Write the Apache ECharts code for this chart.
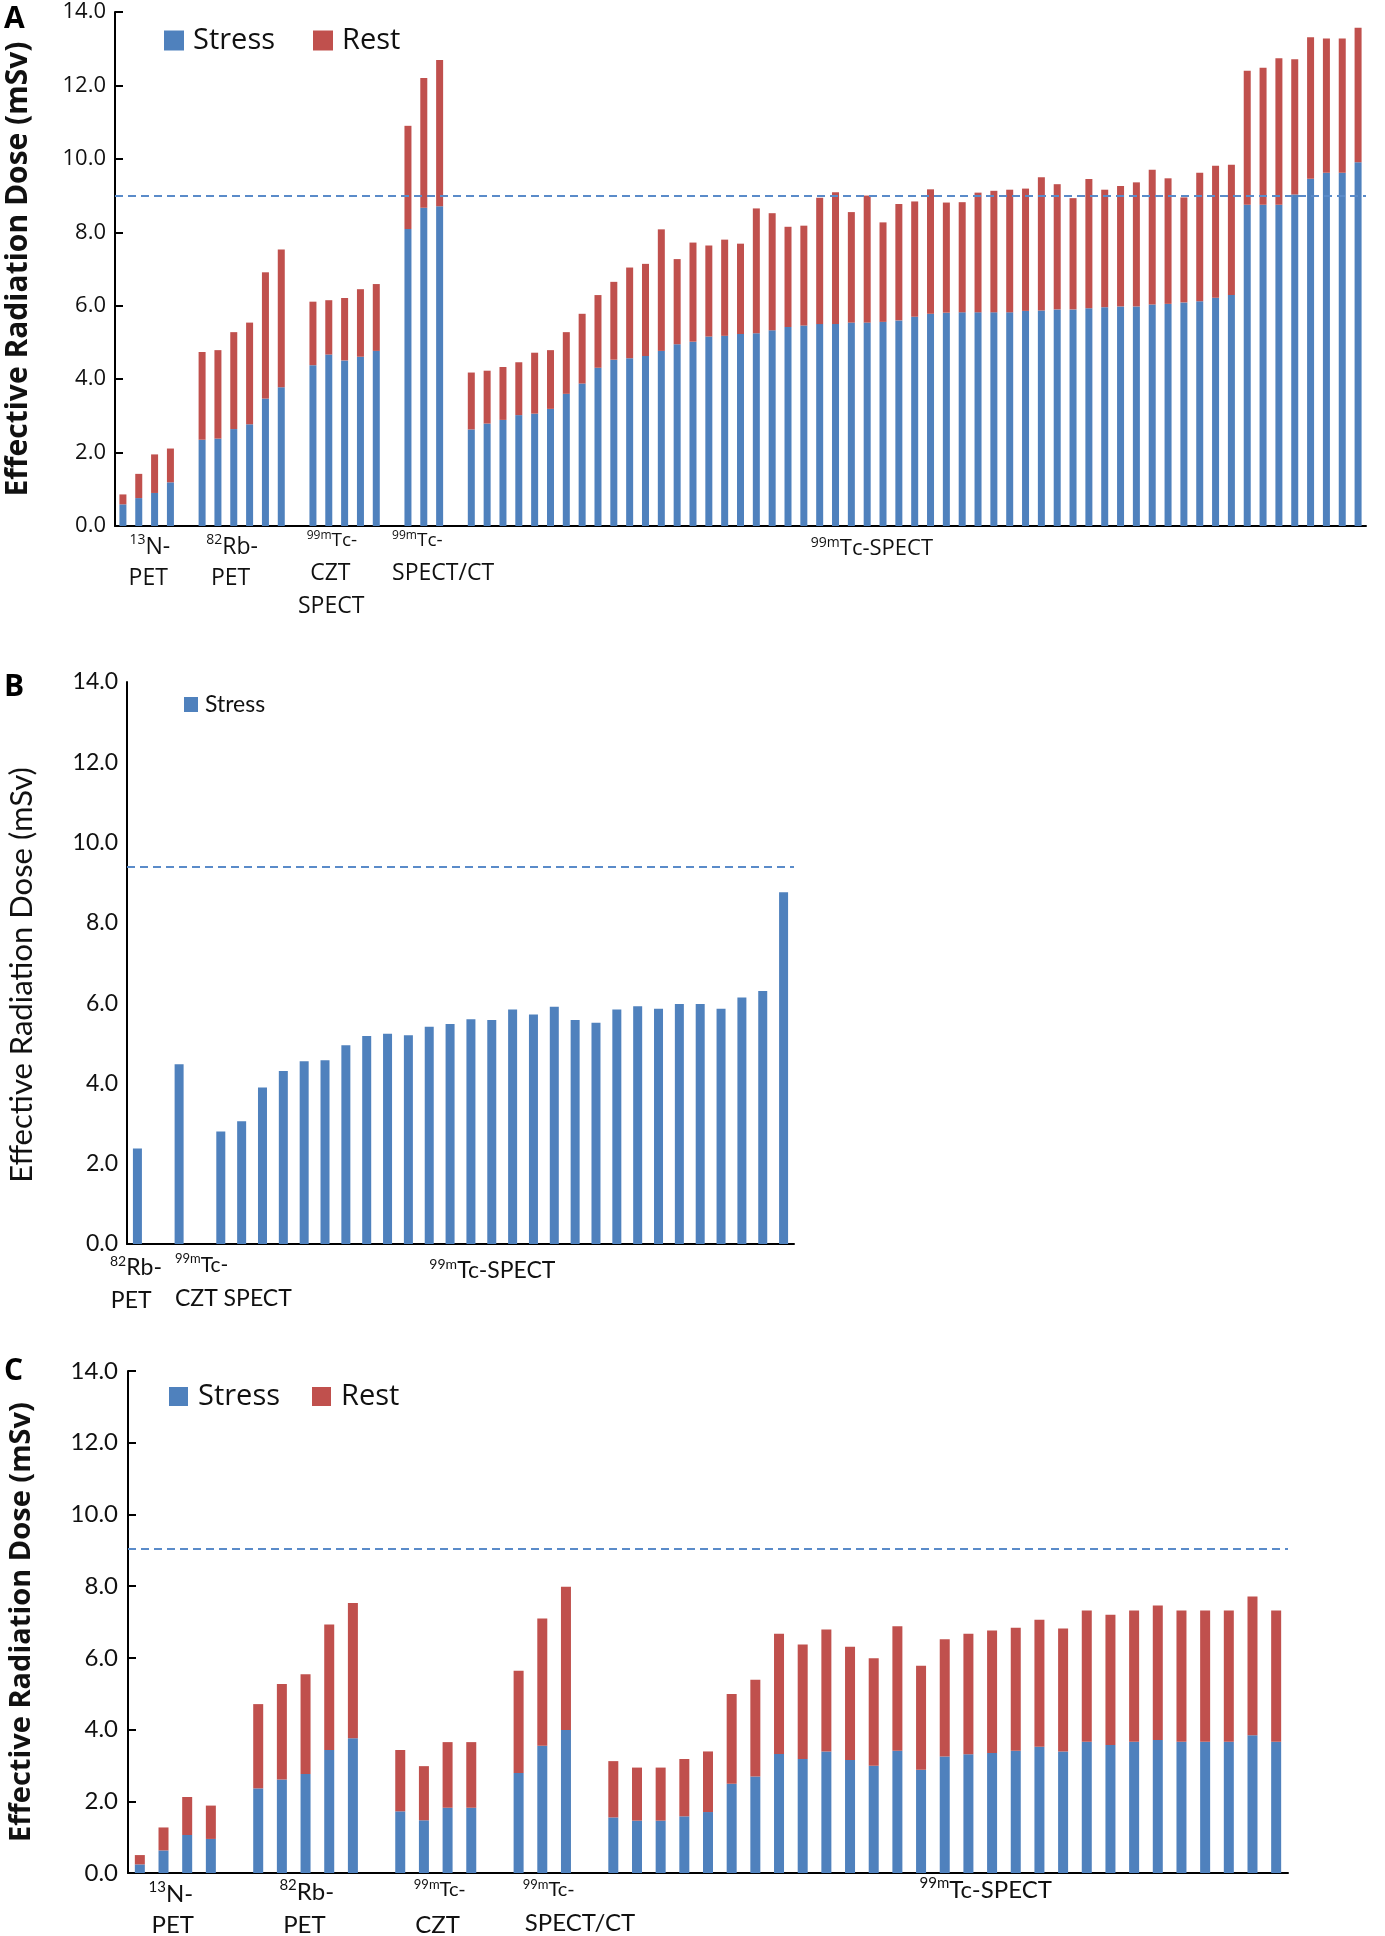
<!DOCTYPE html>
<html>
<head>
<meta charset="utf-8">
<script src="https://cdn.jsdelivr.net/npm/echarts@6/dist/echarts.min.js"></script>
<style>
html,body{margin:0;padding:0;background:#fff;}
#chart{width:1385px;height:1936px;}
</style>
</head>
<body>
<div id="chart"></div>
<script>
// ---------------- DATA ----------------
// Y axis tick labels (all panels)
const yTicks = [0, 2, 4, 6, 8, 10, 12, 14];

// Panel A (stress + rest)
const A_N13_stress    = [0.59, 0.76, 0.90, 1.19];
const A_N13_rest      = [0.27, 0.66, 1.05, 0.92];
const A_Rb82_stress   = [2.35, 2.38, 2.64, 2.77, 3.47, 3.78];
const A_Rb82_rest     = [2.39, 2.41, 2.64, 2.77, 3.44, 3.75];
const A_CZT_stress    = [4.38, 4.67, 4.51, 4.61, 4.77];
const A_CZT_rest      = [1.73, 1.48, 1.70, 1.84, 1.82];
const A_SPECTCT_stress= [8.09, 8.67, 8.71];
const A_SPECTCT_rest  = [2.81, 3.53, 3.98];
const A_SPECT_stress  = [2.63,2.79,2.89,3.02,3.06,3.19,3.60,3.88,4.31,4.53,
                         4.57,4.63,4.77,4.95,5.02,5.16,5.18,5.23,5.25,5.33,
                         5.42,5.46,5.50,5.50,5.54,5.54,5.56,5.60,5.70,5.78,
                         5.81,5.82,5.82,5.82,5.82,5.86,5.87,5.90,5.90,5.93,
                         5.96,5.98,5.98,6.03,6.05,6.09,6.12,6.22,6.29,8.75,
                         8.75,8.75,9.03,9.46,9.62,9.62,9.91];
const A_SPECT_rest    = [1.55,1.44,1.44,1.44,1.66,1.60,1.68,1.90,1.98,2.12,
                         2.47,2.51,3.31,2.32,2.70,2.48,2.62,2.46,3.40,3.19,
                         2.73,2.72,3.44,3.59,3.01,3.46,2.71,3.17,3.14,3.39,
                         3.00,3.00,3.26,3.31,3.34,3.33,3.63,3.41,3.03,3.52,
                         3.20,3.28,3.38,3.67,3.42,2.86,3.50,3.59,3.55,3.65,
                         3.73,3.99,3.68,3.85,3.66,3.66,3.66];
const A_reference = 9.0;

// Panel B (stress only)
const B_Rb82_stress  = [2.38];
const B_CZT_stress   = [4.48];
const B_SPECT_stress = [2.80,3.06,3.90,4.31,4.55,4.58,4.95,5.18,5.24,5.20,
                        5.41,5.48,5.60,5.58,5.84,5.72,5.91,5.58,5.51,5.84,
                        5.92,5.86,5.98,5.98,5.86,6.14,6.30,8.76];
const B_reference = 9.4;

// Panel C (stress + rest)
const C_N13_stress     = [0.24, 0.63, 1.06, 0.95];
const C_N13_rest       = [0.26, 0.64, 1.06, 0.93];
const C_Rb82_stress    = [2.36, 2.61, 2.76, 3.43, 3.76];
const C_Rb82_rest      = [2.35, 2.66, 2.78, 3.50, 3.77];
const C_CZT_stress     = [1.72, 1.47, 1.82, 1.82];
const C_CZT_rest       = [1.71, 1.51, 1.83, 1.83];
const C_SPECTCT_stress = [2.79, 3.55, 3.99];
const C_SPECTCT_rest   = [2.85, 3.55, 3.99];
const C_SPECT_stress   = [1.55,1.46,1.46,1.58,1.70,2.49,2.69,3.32,3.18,3.39,
                          3.15,2.99,3.41,2.88,3.25,3.31,3.35,3.41,3.52,3.39,
                          3.66,3.57,3.66,3.71,3.66,3.66,3.66,3.84,3.66];
const C_SPECT_rest     = [1.57,1.48,1.48,1.60,1.69,2.50,2.70,3.35,3.19,3.40,
                          3.16,3.00,3.47,2.90,3.27,3.36,3.41,3.43,3.54,3.43,
                          3.66,3.63,3.66,3.75,3.66,3.66,3.66,3.87,3.66];
const C_reference = 9.05;

// Legend / axis texts
const seriesNames = ['Stress', 'Rest'];
const yTitle = 'Effective Radiation Dose (mSv)';

// ---------------- BUILD ----------------
function joinGroups(groups) {
  const out = [];
  groups.forEach((g, k) => { if (k > 0) out.push('-'); out.push(...g); });
  return out;
}
const A_stress = joinGroups([A_N13_stress, A_Rb82_stress, A_CZT_stress, A_SPECTCT_stress, A_SPECT_stress]);
const A_rest   = joinGroups([A_N13_rest, A_Rb82_rest, A_CZT_rest, A_SPECTCT_rest, A_SPECT_rest]);
const B_stress = joinGroups([B_Rb82_stress, B_CZT_stress, B_SPECT_stress]);
const C_stress = joinGroups([C_N13_stress, C_Rb82_stress, C_CZT_stress, C_SPECTCT_stress, C_SPECT_stress]);
const C_rest   = joinGroups([C_N13_rest, C_Rb82_rest, C_CZT_rest, C_SPECTCT_rest, C_SPECT_rest]);
const cats = n => Array.from({length: n}, (_, i) => String(i));

const BLUE = '#4F81BD', RED = '#C0504D';
const chart = echarts.init(document.getElementById('chart'), null, {renderer: 'canvas'});

function yAxisDef(grid, font, size, ticks, margin) {
  return {
    type: 'value', gridIndex: grid, min: yTicks[0], max: yTicks[yTicks.length - 1], interval: yTicks[1] - yTicks[0],
    axisLine: {show: true, lineStyle: {color: '#000', width: 2}},
    axisTick: {show: ticks, inside: true, length: 8, lineStyle: {color: '#000', width: 2}},
    splitLine: {show: false},
    axisLabel: {formatter: v => v.toFixed(1), fontFamily: font, fontSize: size, color: '#111', margin: margin}
  };
}
function xAxisDef(grid, n) {
  return {
    type: 'category', gridIndex: grid, data: cats(n),
    axisLine: {show: true, lineStyle: {color: '#000', width: 2}},
    axisTick: {show: false}, axisLabel: {show: false}, splitLine: {show: false}
  };
}
function refLine(v) {
  return {
    silent: true, symbol: ['none', 'none'], label: {show: false},
    lineStyle: {type: [8, 5], color: '#5A8BC9', width: 2},
    data: [{yAxis: v}]
  };
}

chart.setOption({
  animation: false,
  backgroundColor: '#fff',
  grid: [
    {left: 115, top: 12, width: 1251, height: 514},
    {left: 127, top: 682, width: 667, height: 562},
    {left: 128, top: 1371, width: 1160, height: 502}
  ],
  xAxis: [xAxisDef(0, A_stress.length), xAxisDef(1, B_stress.length), xAxisDef(2, C_stress.length)],
  yAxis: [yAxisDef(0, 'Open Sans', 22, true, 9), yAxisDef(1, 'Lato', 23, false, 9), yAxisDef(2, 'Lato', 24, true, 10)],
  legend: [
    {data: seriesNames, left: 159, top: 21, icon: 'rect', itemWidth: 20, itemHeight: 20, itemGap: 38,
     textStyle: {fontFamily: 'Open Sans', fontSize: 29, color: '#111', padding: [0, 0, 0, 4]}},
    {data: [seriesNames[0]], left: 179, top: 688, icon: 'rect', itemWidth: 14, itemHeight: 15,
     textStyle: {fontFamily: 'Lato', fontSize: 23, color: '#111', padding: [0, 0, 0, 2]}},
    {data: seriesNames, left: 164, top: 1377, icon: 'rect', itemWidth: 19, itemHeight: 19, itemGap: 32,
     textStyle: {fontFamily: 'Open Sans', fontSize: 29, color: '#111', padding: [0, 0, 0, 5]}}
  ],
  series: [
    {name: seriesNames[0], type: 'bar', xAxisIndex: 0, yAxisIndex: 0, stack: 'A', data: A_stress, barWidth: 7,
     itemStyle: {color: BLUE}, markLine: refLine(A_reference)},
    {name: seriesNames[1], type: 'bar', xAxisIndex: 0, yAxisIndex: 0, stack: 'A', data: A_rest, barWidth: 7,
     itemStyle: {color: RED}},
    {name: seriesNames[0], type: 'bar', xAxisIndex: 1, yAxisIndex: 1, data: B_stress, barWidth: 9,
     itemStyle: {color: BLUE}, markLine: refLine(B_reference)},
    {name: seriesNames[0], type: 'bar', xAxisIndex: 2, yAxisIndex: 2, stack: 'C', data: C_stress, barWidth: 10,
     itemStyle: {color: BLUE}, markLine: refLine(C_reference)},
    {name: seriesNames[1], type: 'bar', xAxisIndex: 2, yAxisIndex: 2, stack: 'C', data: C_rest, barWidth: 10,
     itemStyle: {color: RED}}
  ]
});

// ---------------- TEXT LABELS (group names, titles, panel letters) ----------------
function catX(axis, i) {
  const p0 = chart.convertToPixel({xAxisIndex: axis}, 0);
  const p1 = chart.convertToPixel({xAxisIndex: axis}, 1);
  return p0 + i * (p1 - p0);
}
function rich(nSize, sSize, family) {
  return {
    s: {fontSize: sSize, fontFamily: family, fill: '#111', verticalAlign: 'top', lineHeight: nSize + 2},
    n: {fontSize: nSize, fontFamily: family, fill: '#111', verticalAlign: 'bottom', lineHeight: nSize + 2}
  };
}
// layout of the category group labels: [axis, text, category position, y, align, size, supSize, font]
const groupLabels = [
  [0, '{s|13}{n|N-}',        1.7,  546, 'center', 23, 14, 'Open Sans'],
  [0, '{n|PET}',              1.6,  577, 'center', 23, 14, 'Open Sans'],
  [0, '{s|82}{n|Rb-}',        6.9,  546, 'center', 23, 14, 'Open Sans'],
  [0, '{n|PET}',              6.8,  577, 'center', 23, 14, 'Open Sans'],
  [0, '{s|99m}{n|Tc-}',       13.2, 540, 'center', 19, 12, 'Open Sans'],
  [0, '{n|CZT}',              13.1, 572, 'center', 23, 14, 'Open Sans'],
  [0, '{n|SPECT}',            13.15,605, 'center', 23, 14, 'Open Sans'],
  [0, '{s|99m}{n|Tc-}',       17.0, 540, 'left',   19, 12, 'Open Sans'],
  [0, '{n|SPECT/CT}',         17.0, 572, 'left',   23, 14, 'Open Sans'],
  [0, '{s|99m}{n|Tc-SPECT}',  47.3, 548, 'center', 22, 14, 'Open Sans'],
  [1, '{s|82}{n|Rb-}',        -0.07,1267, 'center', 23, 14, 'Lato'],
  [1, '{n|PET}',              -0.3, 1300, 'center', 23, 14, 'Lato'],
  [1, '{s|99m}{n|Tc-}',       1.8,  1264, 'left',   21, 13, 'Lato'],
  [1, '{n|CZT SPECT}',        1.8,  1298, 'left',   23, 14, 'Lato'],
  [1, '{s|99m}{n|Tc-SPECT}',  17.03,1270, 'center', 23, 14, 'Lato'],
  [2, '{s|13}{n|N-}',         1.31, 1893, 'center', 24, 15, 'Lato'],
  [2, '{n|PET}',              1.39, 1924, 'center', 24, 15, 'Lato'],
  [2, '{s|82}{n|Rb-}',        7.05, 1891, 'center', 24, 15, 'Lato'],
  [2, '{n|PET}',              6.95, 1924, 'center', 24, 15, 'Lato'],
  [2, '{s|99m}{n|Tc-}',       12.67,1889, 'center', 20, 13, 'Lato'],
  [2, '{n|CZT}',              12.58,1924, 'center', 24, 15, 'Lato'],
  [2, '{s|99m}{n|Tc-}',       16.17,1889, 'left',   20, 13, 'Lato'],
  [2, '{n|SPECT/CT}',         16.26,1922, 'left',   24, 15, 'Lato'],
  [2, '{s|99m}{n|Tc-SPECT}',  35.73,1889, 'center', 24, 15, 'Lato']
];
const graphics = groupLabels.map(g => ({
  type: 'text', silent: true,
  style: {
    text: g[1], x: catX(g[0], g[2]), y: g[3], align: g[4], verticalAlign: 'middle',
    fontFamily: g[7], fontSize: g[5], fill: '#111', rich: rich(g[5], g[6], g[7])
  }
}));
// y-axis titles
[[18, 269, 'bold', 30, 'Open Sans'], [22, 975, 'normal', 31, 'Lato'], [22, 1622, 'bold', 29, 'Open Sans']].forEach(t => {
  graphics.push({
    type: 'text', silent: true, x: t[0], y: t[1], rotation: Math.PI / 2,
    style: {text: yTitle, x: 0, y: 0, align: 'center', verticalAlign: 'middle',
            fontFamily: t[4], fontWeight: t[2], fontSize: t[3], fill: '#111'}
  });
});
// panel letters
[['A', 4, 4], ['B', 4, 672], ['C', 4, 1356]].forEach(t => {
  graphics.push({
    type: 'text', silent: true,
    style: {text: t[0], x: t[1], y: t[2], fontFamily: 'Open Sans', fontWeight: 'bold', fontSize: 30, fill: '#000'}
  });
});
chart.setOption({graphic: graphics});
</script>
</body>
</html>
